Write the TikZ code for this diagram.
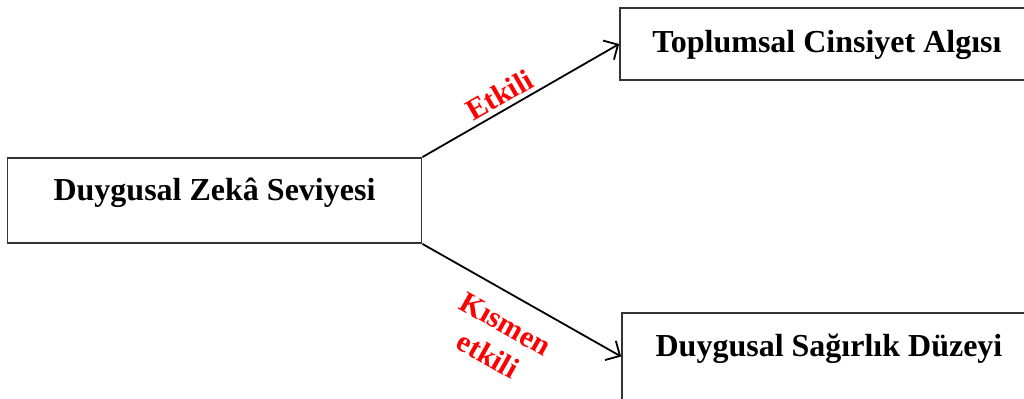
\documentclass[tikz,border=0pt]{standalone}
\usepackage{fontspec}
\setmainfont{Liberation Serif}
\usetikzlibrary{arrows.meta}
\tikzset{
	kutu/.style={draw=black!80, line width=0.9pt, rectangle, inner xsep=0pt, inner ysep=0pt, minimum width=207pt, anchor=base, font=\bfseries\fontsize{16}{20}\selectfont},
	ok/.style={line width=0.9pt, -{Straight Barb[length=5.5pt,width=11pt,line width=0.9pt]}},
	etiket/.style={text=red, inner sep=2pt, align=center, font=\bfseries\fontsize{15}{18}\selectfont}
}

\begin{document}
\begin{tikzpicture}[x=0.5pt, y=-0.5pt]
		%%%%% START %%%%%
		\useasboundingbox (0, 0) rectangle (1024, 398);
		
		\node[kutu, text height=21pt, text depth=21.5pt] (zeka) at (214.5, 200) {Duygusal Zekâ Seviyesi};
		\node[kutu, text height=22pt, text depth=14pt] (toplum) at (827, 52) {Toplumsal Cinsiyet Algısı};
		\node[kutu, text height=21.5pt, text depth=22pt] (sagir) at (829, 356) {Duygusal Sağırlık Düzeyi};
		
		\draw[ok] (zeka.north east) -- node[etiket, sloped, above, pos=0.43] {Etkili} (toplum.west);
		\draw[ok] (zeka.south east) -- node[etiket, sloped, below=7pt, pos=0.49] {Kısmen\\etkili} (sagir.west);
		
		%%%%% END %%%%%
	\end{tikzpicture}
\end{document}
